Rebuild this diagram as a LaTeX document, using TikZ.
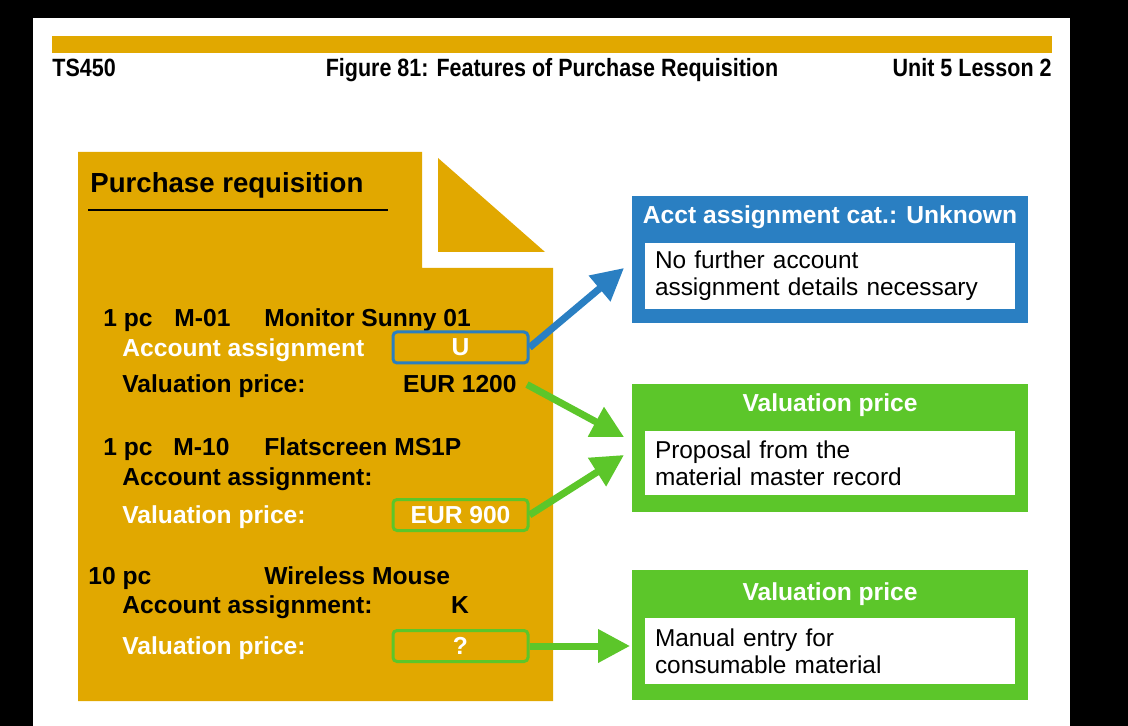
\documentclass[tikz,border=0pt]{standalone}
\usepackage{fontspec}
\setmainfont{Liberation Sans}
\newfontfamily\slidehead[FakeStretch=0.86]{Liberation Sans}
\usetikzlibrary{arrows.meta}
\definecolor{sapgold}{HTML}{E1A800}
\definecolor{sapblue}{HTML}{2A7FC2}
\definecolor{sapgreen}{HTML}{5CC62A}
\begin{document}
\begin{tikzpicture}[x=0.5pt, y=-0.5pt,
  prtxt/.style={anchor=base west, inner sep=0pt, text=black, font=\fontsize{12.3}{14}\selectfont\bfseries},
  prwhite/.style={prtxt, text=white},
  valbox/.style={draw=#1, line width=1.5pt, rounded corners=2pt, minimum width=67.5pt, minimum height=15.5pt, inner sep=0pt, text=white, font=\fontsize{12.3}{14}\selectfont\bfseries},
  catbox/.style={fill=#1, minimum width=198pt, inner sep=0pt},
  cathead/.style={anchor=base, inner sep=0pt, text=white, font=\fontsize{12.3}{14}\selectfont\bfseries},
  catbody/.style={fill=white, minimum width=185pt, text width=175pt, inner sep=0pt, align=left, font=\fontsize{12.2}{13.5}\selectfont},
  slidetxt/.style={anchor=base, inner sep=0pt, font=\slidehead\fontsize{12.5}{14}\selectfont\bfseries},
  flow/.style={line width=3.5pt, -{Triangle[length=16pt,width=16pt]}}
]
\useasboundingbox (0,0) rectangle (1128,726);
\fill[black] (0,0) rectangle (1128,726);
\fill[white] (33,18) rectangle (1070,726);

% slide header
\fill[sapgold] (52,36) rectangle (1052,53);
\node[slidetxt, anchor=base west] (course) at (52,77) {TS450};
\node[slidetxt] (figtitle) at (552,77) {Figure 81: Features of Purchase Requisition};
\node[slidetxt, anchor=base east] (unit) at (1052,77) {Unit 5 Lesson 2};

% purchase requisition sheet
\fill[sapgold] (78,152) -- (422,152) -- (422,268) -- (553,268) -- (553,701) -- (78,701) -- cycle;
\fill[sapgold] (438,158) -- (438,252) -- (545,252) -- cycle;
\node[prtxt, font=\fontsize{13.8}{16}\selectfont\bfseries] (prtitle) at (90,193) {Purchase requisition};
\draw[line width=1pt] (88,210) -- (388,210);

\node[prtxt] (qty1) at (103,327) {1 pc};
\node[prtxt] (mat1) at (174,327) {M-01};
\node[prtxt] (desc1) at (264,327) {Monitor Sunny 01};
\node[prwhite] (acc1) at (122,357) {Account assignment};
\node[valbox=sapblue] (acc1val) at (460.5,347.5) {U};
\node[prtxt] (val1) at (122,393) {Valuation price:};
\node[prtxt, anchor=base east] (val1val) at (517,393) {EUR 1200};

\node[prtxt] (qty2) at (103,455) {1 pc};
\node[prtxt] (mat2) at (173,455) {M-10};
\node[prtxt] (desc2) at (264,455) {Flatscreen MS1P};
\node[prtxt] (acc2) at (122,485) {Account assignment:};
\node[prwhite] (val2) at (122,523) {Valuation price:};
\node[valbox=sapgreen] (val2val) at (460.5,515) {EUR 900};

\node[prtxt] (qty3) at (88,584) {10 pc};
\node[prtxt] (desc3) at (264,584) {Wireless Mouse};
\node[prtxt] (acc3) at (122,613) {Account assignment:};
\node[prtxt, anchor=base] (acc3val) at (460,613) {K};
\node[prwhite] (val3) at (122,654) {Valuation price:};
\node[valbox=sapgreen] (val3val) at (460.5,646) {?};

% result boxes
\node[catbox=sapblue, minimum height=63.5pt] (acct) at (830,259.5) {};
\node[cathead] (accthead) at (830,224) {Acct assignment cat.: Unknown};
\node[catbody, minimum height=33pt] (acctbody) at (830,276) {No further account\\assignment details necessary};

\node[catbox=sapgreen, minimum height=64pt] (prop) at (830,448) {};
\node[cathead] (prophead) at (830,412) {Valuation price};
\node[catbody, minimum height=32pt] (propbody) at (830,463) {Proposal from the\\material master record};

\node[catbox=sapgreen, minimum height=65pt] (manual) at (830,635) {};
\node[cathead] (manualhead) at (830,600) {Valuation price};
\node[catbody, minimum height=33pt] (manualbody) at (830,651) {Manual entry for\\consumable material};

% connectors
\coordinate (acct-tip) at (624,268);
\coordinate (prop-tip1) at (624,437);
\coordinate (prop-tip2) at (624,455);
\coordinate (manual-tip) at (630,646);
\draw[flow, sapblue] (acc1val.east) -- (acct-tip);
\draw[flow, sapgreen] ([xshift=5pt]val1val.east) -- (prop-tip1);
\draw[flow, sapgreen] (val2val.east) -- (prop-tip2);
\draw[flow, sapgreen] (val3val.east) -- (manual-tip);
\end{tikzpicture}
\end{document}
